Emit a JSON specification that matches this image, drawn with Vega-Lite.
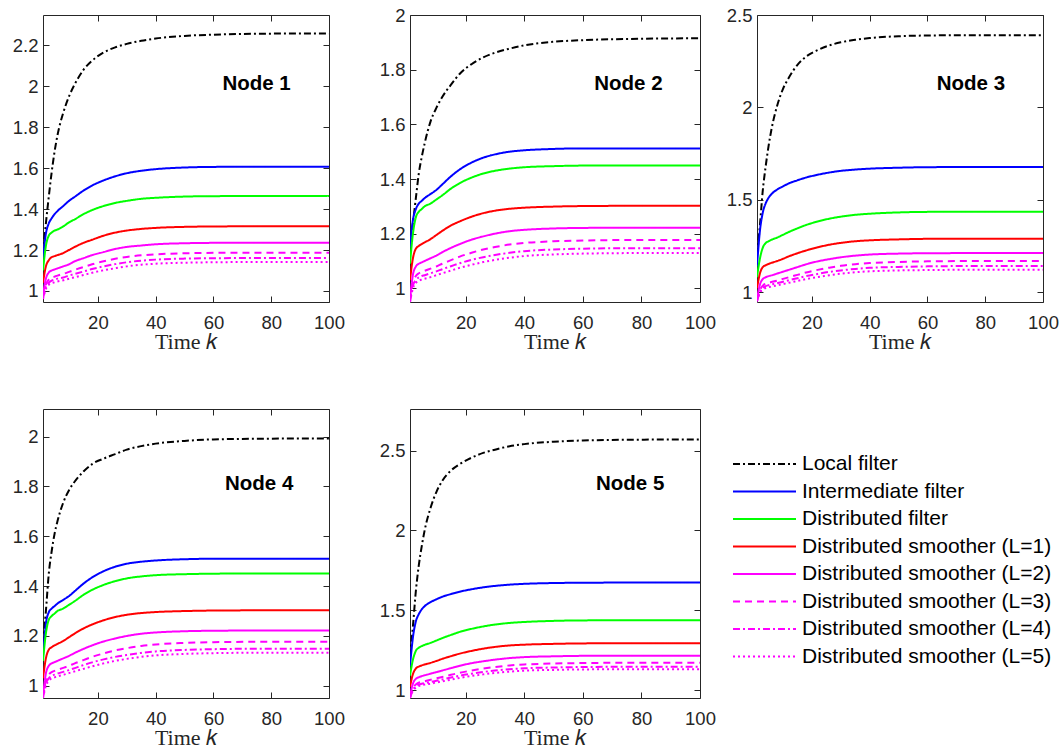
{
"$schema": "https://vega.github.io/schema/vega-lite/v6.json",
"padding": {"left": 10, "top": 5, "right": 5, "bottom": 5},
"background": "white",
"datasets": {"d": [
{"n":1,"k":1,"a":1.18,"b":1.16,"c":1.10,"d":1.04,"e":0.98,"f":0.97,"g":0.965,"h":0.96},
{"n":1,"k":2,"a":1.33,"b":1.28,"c":1.22,"d":1.12,"e":1.06,"f":1.03,"g":1.02,"h":1.01},
{"n":1,"k":3,"a":1.46,"b":1.33,"c":1.27,"d":1.15,"e":1.09,"f":1.055,"g":1.04,"h":1.03},
{"n":1,"k":4,"a":1.58,"b":1.355,"c":1.285,"d":1.165,"e":1.10,"f":1.065,"g":1.05,"h":1.038},
{"n":1,"k":5,"a":1.68,"b":1.375,"c":1.295,"d":1.17,"e":1.105,"f":1.07,"g":1.055,"h":1.042},
{"n":1,"k":6,"a":1.76,"b":1.39,"c":1.30,"d":1.175,"e":1.11,"f":1.075,"g":1.06,"h":1.046},
{"n":1,"k":8,"a":1.87,"b":1.415,"c":1.315,"d":1.185,"e":1.12,"f":1.083,"g":1.066,"h":1.052},
{"n":1,"k":10,"a":1.95,"b":1.44,"c":1.335,"d":1.20,"e":1.13,"f":1.093,"g":1.075,"h":1.06},
{"n":1,"k":12,"a":2.01,"b":1.46,"c":1.35,"d":1.215,"e":1.145,"f":1.103,"g":1.083,"h":1.067},
{"n":1,"k":15,"a":2.08,"b":1.49,"c":1.375,"d":1.235,"e":1.16,"f":1.117,"g":1.095,"h":1.078},
{"n":1,"k":18,"a":2.125,"b":1.515,"c":1.395,"d":1.25,"e":1.175,"f":1.13,"g":1.107,"h":1.089},
{"n":1,"k":22,"a":2.165,"b":1.54,"c":1.415,"d":1.27,"e":1.19,"f":1.145,"g":1.12,"h":1.101},
{"n":1,"k":26,"a":2.19,"b":1.56,"c":1.43,"d":1.285,"e":1.205,"f":1.157,"g":1.131,"h":1.111},
{"n":1,"k":30,"a":2.207,"b":1.575,"c":1.44,"d":1.295,"e":1.215,"f":1.166,"g":1.14,"h":1.12},
{"n":1,"k":35,"a":2.222,"b":1.587,"c":1.45,"d":1.303,"e":1.222,"f":1.174,"g":1.148,"h":1.128},
{"n":1,"k":40,"a":2.233,"b":1.595,"c":1.455,"d":1.308,"e":1.228,"f":1.179,"g":1.153,"h":1.133},
{"n":1,"k":50,"a":2.246,"b":1.603,"c":1.461,"d":1.313,"e":1.233,"f":1.184,"g":1.158,"h":1.138},
{"n":1,"k":60,"a":2.252,"b":1.606,"c":1.463,"d":1.315,"e":1.235,"f":1.186,"g":1.16,"h":1.14},
{"n":1,"k":80,"a":2.257,"b":1.607,"c":1.464,"d":1.316,"e":1.236,"f":1.187,"g":1.161,"h":1.142},
{"n":1,"k":100,"a":2.258,"b":1.607,"c":1.464,"d":1.316,"e":1.236,"f":1.187,"g":1.161,"h":1.142},
{"n":2,"k":1,"a":1.16,"b":1.15,"c":1.09,"d":1.03,"e":0.96,"f":0.955,"g":0.95,"h":0.95},
{"n":2,"k":2,"a":1.24,"b":1.25,"c":1.20,"d":1.11,"e":1.05,"f":1.02,"g":1.01,"h":1.0},
{"n":2,"k":3,"a":1.33,"b":1.29,"c":1.26,"d":1.145,"e":1.08,"f":1.045,"g":1.03,"h":1.02},
{"n":2,"k":4,"a":1.42,"b":1.31,"c":1.28,"d":1.155,"e":1.09,"f":1.055,"g":1.04,"h":1.028},
{"n":2,"k":5,"a":1.48,"b":1.32,"c":1.29,"d":1.162,"e":1.095,"f":1.06,"g":1.045,"h":1.032},
{"n":2,"k":6,"a":1.53,"b":1.33,"c":1.30,"d":1.168,"e":1.10,"f":1.064,"g":1.048,"h":1.035},
{"n":2,"k":8,"a":1.61,"b":1.345,"c":1.31,"d":1.18,"e":1.11,"f":1.072,"g":1.055,"h":1.041},
{"n":2,"k":10,"a":1.66,"b":1.36,"c":1.325,"d":1.195,"e":1.12,"f":1.08,"g":1.062,"h":1.048},
{"n":2,"k":12,"a":1.70,"b":1.38,"c":1.34,"d":1.21,"e":1.132,"f":1.09,"g":1.07,"h":1.055},
{"n":2,"k":15,"a":1.745,"b":1.41,"c":1.365,"d":1.23,"e":1.148,"f":1.103,"g":1.081,"h":1.065},
{"n":2,"k":18,"a":1.785,"b":1.435,"c":1.385,"d":1.245,"e":1.162,"f":1.116,"g":1.092,"h":1.075},
{"n":2,"k":22,"a":1.82,"b":1.46,"c":1.405,"d":1.262,"e":1.178,"f":1.13,"g":1.104,"h":1.086},
{"n":2,"k":26,"a":1.845,"b":1.478,"c":1.42,"d":1.275,"e":1.19,"f":1.142,"g":1.114,"h":1.096},
{"n":2,"k":30,"a":1.862,"b":1.49,"c":1.43,"d":1.284,"e":1.20,"f":1.151,"g":1.122,"h":1.104},
{"n":2,"k":35,"a":1.877,"b":1.50,"c":1.438,"d":1.291,"e":1.209,"f":1.16,"g":1.13,"h":1.112},
{"n":2,"k":40,"a":1.889,"b":1.505,"c":1.443,"d":1.295,"e":1.214,"f":1.166,"g":1.136,"h":1.118},
{"n":2,"k":50,"a":1.902,"b":1.51,"c":1.447,"d":1.299,"e":1.219,"f":1.172,"g":1.142,"h":1.124},
{"n":2,"k":60,"a":1.908,"b":1.512,"c":1.449,"d":1.301,"e":1.221,"f":1.175,"g":1.145,"h":1.127},
{"n":2,"k":80,"a":1.913,"b":1.512,"c":1.449,"d":1.302,"e":1.222,"f":1.177,"g":1.147,"h":1.129},
{"n":2,"k":100,"a":1.915,"b":1.512,"c":1.449,"d":1.302,"e":1.222,"f":1.177,"g":1.147,"h":1.129},
{"n":3,"k":1,"a":1.2,"b":1.14,"c":1.08,"d":1.02,"e":0.96,"f":0.955,"g":0.95,"h":0.95},
{"n":3,"k":2,"a":1.36,"b":1.33,"c":1.18,"d":1.10,"e":1.04,"f":1.01,"g":1.0,"h":0.995},
{"n":3,"k":3,"a":1.55,"b":1.43,"c":1.24,"d":1.135,"e":1.07,"f":1.035,"g":1.022,"h":1.013},
{"n":3,"k":4,"a":1.68,"b":1.48,"c":1.265,"d":1.145,"e":1.08,"f":1.045,"g":1.032,"h":1.022},
{"n":3,"k":5,"a":1.79,"b":1.51,"c":1.275,"d":1.152,"e":1.086,"f":1.05,"g":1.037,"h":1.026},
{"n":3,"k":6,"a":1.88,"b":1.53,"c":1.283,"d":1.158,"e":1.09,"f":1.054,"g":1.041,"h":1.03},
{"n":3,"k":8,"a":2.01,"b":1.555,"c":1.295,"d":1.168,"e":1.10,"f":1.062,"g":1.048,"h":1.036},
{"n":3,"k":10,"a":2.10,"b":1.572,"c":1.31,"d":1.18,"e":1.11,"f":1.071,"g":1.056,"h":1.043},
{"n":3,"k":12,"a":2.16,"b":1.588,"c":1.325,"d":1.193,"e":1.12,"f":1.08,"g":1.064,"h":1.05},
{"n":3,"k":15,"a":2.23,"b":1.605,"c":1.345,"d":1.21,"e":1.135,"f":1.093,"g":1.075,"h":1.06},
{"n":3,"k":18,"a":2.275,"b":1.62,"c":1.363,"d":1.225,"e":1.15,"f":1.106,"g":1.086,"h":1.07},
{"n":3,"k":22,"a":2.31,"b":1.635,"c":1.382,"d":1.242,"e":1.166,"f":1.12,"g":1.098,"h":1.081},
{"n":3,"k":26,"a":2.335,"b":1.647,"c":1.397,"d":1.256,"e":1.178,"f":1.132,"g":1.109,"h":1.091},
{"n":3,"k":30,"a":2.352,"b":1.656,"c":1.408,"d":1.266,"e":1.188,"f":1.142,"g":1.117,"h":1.099},
{"n":3,"k":35,"a":2.366,"b":1.663,"c":1.418,"d":1.275,"e":1.197,"f":1.151,"g":1.125,"h":1.107},
{"n":3,"k":40,"a":2.375,"b":1.668,"c":1.424,"d":1.28,"e":1.203,"f":1.157,"g":1.131,"h":1.112},
{"n":3,"k":50,"a":2.385,"b":1.673,"c":1.431,"d":1.285,"e":1.208,"f":1.163,"g":1.136,"h":1.117},
{"n":3,"k":60,"a":2.389,"b":1.676,"c":1.434,"d":1.288,"e":1.21,"f":1.166,"g":1.139,"h":1.119},
{"n":3,"k":80,"a":2.391,"b":1.677,"c":1.435,"d":1.289,"e":1.211,"f":1.168,"g":1.141,"h":1.121},
{"n":3,"k":100,"a":2.391,"b":1.677,"c":1.435,"d":1.289,"e":1.211,"f":1.168,"g":1.141,"h":1.121},
{"n":4,"k":1,"a":1.17,"b":1.12,"c":1.10,"d":1.03,"e":0.96,"f":0.955,"g":0.955,"h":0.95},
{"n":4,"k":2,"a":1.30,"b":1.25,"c":1.21,"d":1.11,"e":1.05,"f":1.02,"g":1.01,"h":1.0},
{"n":4,"k":3,"a":1.45,"b":1.295,"c":1.265,"d":1.145,"e":1.08,"f":1.045,"g":1.03,"h":1.02},
{"n":4,"k":4,"a":1.54,"b":1.31,"c":1.28,"d":1.155,"e":1.09,"f":1.055,"g":1.04,"h":1.03},
{"n":4,"k":5,"a":1.61,"b":1.32,"c":1.29,"d":1.162,"e":1.095,"f":1.06,"g":1.045,"h":1.034},
{"n":4,"k":6,"a":1.66,"b":1.33,"c":1.30,"d":1.168,"e":1.10,"f":1.064,"g":1.049,"h":1.038},
{"n":4,"k":8,"a":1.735,"b":1.345,"c":1.31,"d":1.18,"e":1.11,"f":1.072,"g":1.056,"h":1.044},
{"n":4,"k":10,"a":1.785,"b":1.36,"c":1.325,"d":1.195,"e":1.12,"f":1.08,"g":1.063,"h":1.051},
{"n":4,"k":12,"a":1.82,"b":1.38,"c":1.34,"d":1.21,"e":1.132,"f":1.09,"g":1.071,"h":1.058},
{"n":4,"k":15,"a":1.86,"b":1.41,"c":1.365,"d":1.23,"e":1.148,"f":1.103,"g":1.083,"h":1.068},
{"n":4,"k":18,"a":1.89,"b":1.435,"c":1.385,"d":1.246,"e":1.162,"f":1.116,"g":1.094,"h":1.078},
{"n":4,"k":22,"a":1.912,"b":1.46,"c":1.405,"d":1.263,"e":1.178,"f":1.13,"g":1.106,"h":1.09},
{"n":4,"k":26,"a":1.93,"b":1.478,"c":1.42,"d":1.276,"e":1.19,"f":1.142,"g":1.116,"h":1.1},
{"n":4,"k":30,"a":1.948,"b":1.49,"c":1.431,"d":1.285,"e":1.20,"f":1.151,"g":1.124,"h":1.108},
{"n":4,"k":35,"a":1.962,"b":1.498,"c":1.439,"d":1.292,"e":1.209,"f":1.16,"g":1.132,"h":1.116},
{"n":4,"k":40,"a":1.972,"b":1.503,"c":1.444,"d":1.296,"e":1.214,"f":1.166,"g":1.138,"h":1.122},
{"n":4,"k":50,"a":1.983,"b":1.508,"c":1.448,"d":1.30,"e":1.219,"f":1.172,"g":1.144,"h":1.128},
{"n":4,"k":60,"a":1.989,"b":1.51,"c":1.45,"d":1.302,"e":1.221,"f":1.175,"g":1.147,"h":1.131},
{"n":4,"k":80,"a":1.992,"b":1.51,"c":1.451,"d":1.303,"e":1.222,"f":1.177,"g":1.149,"h":1.133},
{"n":4,"k":100,"a":1.993,"b":1.51,"c":1.451,"d":1.303,"e":1.222,"f":1.177,"g":1.149,"h":1.133},
{"n":5,"k":1,"a":1.21,"b":1.15,"c":1.09,"d":1.02,"e":0.96,"f":0.955,"g":0.95,"h":0.95},
{"n":5,"k":2,"a":1.40,"b":1.33,"c":1.19,"d":1.10,"e":1.04,"f":1.01,"g":1.0,"h":0.995},
{"n":5,"k":3,"a":1.62,"b":1.43,"c":1.245,"d":1.135,"e":1.07,"f":1.035,"g":1.024,"h":1.015},
{"n":5,"k":4,"a":1.78,"b":1.475,"c":1.265,"d":1.147,"e":1.08,"f":1.046,"g":1.034,"h":1.025},
{"n":5,"k":5,"a":1.90,"b":1.505,"c":1.275,"d":1.154,"e":1.087,"f":1.051,"g":1.039,"h":1.03},
{"n":5,"k":6,"a":2.0,"b":1.525,"c":1.283,"d":1.16,"e":1.092,"f":1.055,"g":1.043,"h":1.034},
{"n":5,"k":8,"a":2.14,"b":1.55,"c":1.295,"d":1.17,"e":1.102,"f":1.064,"g":1.05,"h":1.04},
{"n":5,"k":10,"a":2.24,"b":1.568,"c":1.31,"d":1.182,"e":1.112,"f":1.073,"g":1.058,"h":1.047},
{"n":5,"k":12,"a":2.31,"b":1.584,"c":1.325,"d":1.195,"e":1.122,"f":1.082,"g":1.066,"h":1.054},
{"n":5,"k":15,"a":2.375,"b":1.601,"c":1.345,"d":1.212,"e":1.137,"f":1.095,"g":1.078,"h":1.065},
{"n":5,"k":18,"a":2.415,"b":1.616,"c":1.364,"d":1.228,"e":1.152,"f":1.108,"g":1.09,"h":1.076},
{"n":5,"k":22,"a":2.455,"b":1.631,"c":1.383,"d":1.245,"e":1.168,"f":1.122,"g":1.102,"h":1.088},
{"n":5,"k":26,"a":2.485,"b":1.643,"c":1.398,"d":1.259,"e":1.18,"f":1.134,"g":1.113,"h":1.098},
{"n":5,"k":30,"a":2.505,"b":1.652,"c":1.41,"d":1.27,"e":1.19,"f":1.144,"g":1.122,"h":1.107},
{"n":5,"k":35,"a":2.527,"b":1.66,"c":1.42,"d":1.279,"e":1.2,"f":1.154,"g":1.13,"h":1.115},
{"n":5,"k":40,"a":2.54,"b":1.665,"c":1.426,"d":1.284,"e":1.206,"f":1.16,"g":1.136,"h":1.121},
{"n":5,"k":50,"a":2.555,"b":1.67,"c":1.433,"d":1.289,"e":1.211,"f":1.166,"g":1.141,"h":1.126},
{"n":5,"k":60,"a":2.563,"b":1.672,"c":1.436,"d":1.292,"e":1.214,"f":1.169,"g":1.144,"h":1.129},
{"n":5,"k":80,"a":2.568,"b":1.673,"c":1.437,"d":1.293,"e":1.215,"f":1.171,"g":1.146,"h":1.13},
{"n":5,"k":100,"a":2.569,"b":1.673,"c":1.437,"d":1.293,"e":1.215,"f":1.171,"g":1.146,"h":1.13}
]},
"vconcat": [
{"hconcat": [
{"width": 286, "height": 287,
 "layer": [
  {"data": {"name": "d"},
   "transform": [{"filter": "datum.n == 1"}, {"fold": ["a","b","c","d","e","f","g","h"], "as": ["s","v"]}],
   "mark": {"type": "line", "strokeWidth": 2, "clip": true, "interpolate": "monotone"},
   "encoding": {
    "x": {"field": "k", "type": "quantitative", "scale": {"domain": [1,100], "nice": false, "zero": false}, "axis": {"orient": "bottom", "values": [20,40,60,80,100], "format": "d", "title": "Time 𝑘", "minExtent": 0}},
    "y": {"field": "v", "type": "quantitative", "scale": {"domain": [0.946,2.348], "nice": false, "zero": false}, "axis": {"orient": "left", "values": [1,1.2,1.4,1.6,1.8,2,2.2], "format": "~g", "title": null, "minExtent": 32}},
    "color": {"field": "s", "type": "nominal", "scale": {"domain": ["a","b","c","d","e","f","g","h"], "range": ["#000000","#0000ff","#00ff00","#ff0000","#ff00ff","#ff00ff","#ff00ff","#ff00ff"]}, "legend": null},
    "strokeDash": {"field": "s", "type": "nominal", "scale": {"domain": ["a","b","c","d","e","f","g","h"], "range": [[7,3,2,3],[1,0],[1,0],[1,0],[1,0],[7,5],[7,3,2,3],[2,3]]}, "legend": null}
   }},
  {"data": {"values": [{}]},
   "mark": {"type": "text", "text": "Node 1", "align": "left", "baseline": "middle", "font": "Liberation Sans", "fontSize": 20.5, "fontWeight": "bold", "color": "#000000"},
   "encoding": {
    "x": {"datum": 63.1, "type": "quantitative", "scale": {"domain": [1,100], "nice": false, "zero": false}, "axis": {"orient": "top", "values": [20,40,60,80,100], "labels": false, "title": null, "minExtent": 0, "maxExtent": 0}},
    "y": {"datum": 2.011, "type": "quantitative", "scale": {"domain": [0.946,2.348], "nice": false, "zero": false}, "axis": {"orient": "right", "values": [1,1.2,1.4,1.6,1.8,2,2.2], "labels": false, "title": null, "minExtent": 0, "maxExtent": 0}}
   }}
 ],
 "resolve": {"axis": {"x": "independent", "y": "independent"}}
},
{"width": 290, "height": 287,
 "layer": [
  {"data": {"name": "d"},
   "transform": [{"filter": "datum.n == 2"}, {"fold": ["a","b","c","d","e","f","g","h"], "as": ["s","v"]}],
   "mark": {"type": "line", "strokeWidth": 2, "clip": true, "interpolate": "monotone"},
   "encoding": {
    "x": {"field": "k", "type": "quantitative", "scale": {"domain": [1,100], "nice": false, "zero": false}, "axis": {"orient": "bottom", "values": [20,40,60,80,100], "format": "d", "title": "Time 𝑘", "minExtent": 0}},
    "y": {"field": "v", "type": "quantitative", "scale": {"domain": [0.95,2.0], "nice": false, "zero": false}, "axis": {"orient": "left", "values": [1,1.2,1.4,1.6,1.8,2], "format": "~g", "title": null, "minExtent": 55}},
    "color": {"field": "s", "type": "nominal", "scale": {"domain": ["a","b","c","d","e","f","g","h"], "range": ["#000000","#0000ff","#00ff00","#ff0000","#ff00ff","#ff00ff","#ff00ff","#ff00ff"]}, "legend": null},
    "strokeDash": {"field": "s", "type": "nominal", "scale": {"domain": ["a","b","c","d","e","f","g","h"], "range": [[7,3,2,3],[1,0],[1,0],[1,0],[1,0],[7,5],[7,3,2,3],[2,3]]}, "legend": null}
   }},
  {"data": {"values": [{}]},
   "mark": {"type": "text", "text": "Node 2", "align": "left", "baseline": "middle", "font": "Liberation Sans", "fontSize": 20.5, "fontWeight": "bold", "color": "#000000"},
   "encoding": {
    "x": {"datum": 63.9, "type": "quantitative", "scale": {"domain": [1,100], "nice": false, "zero": false}, "axis": {"orient": "top", "values": [20,40,60,80,100], "labels": false, "title": null, "minExtent": 0, "maxExtent": 0}},
    "y": {"datum": 1.746, "type": "quantitative", "scale": {"domain": [0.95,2.0], "nice": false, "zero": false}, "axis": {"orient": "right", "values": [1,1.2,1.4,1.6,1.8,2], "labels": false, "title": null, "minExtent": 0, "maxExtent": 0}}
   }}
 ],
 "resolve": {"axis": {"x": "independent", "y": "independent"}}
},
{"width": 286, "height": 287,
 "layer": [
  {"data": {"name": "d"},
   "transform": [{"filter": "datum.n == 3"}, {"fold": ["a","b","c","d","e","f","g","h"], "as": ["s","v"]}],
   "mark": {"type": "line", "strokeWidth": 2, "clip": true, "interpolate": "monotone"},
   "encoding": {
    "x": {"field": "k", "type": "quantitative", "scale": {"domain": [1,100], "nice": false, "zero": false}, "axis": {"orient": "bottom", "values": [20,40,60,80,100], "format": "d", "title": "Time 𝑘", "minExtent": 0}},
    "y": {"field": "v", "type": "quantitative", "scale": {"domain": [0.946,2.5], "nice": false, "zero": false}, "axis": {"orient": "left", "values": [1,1.5,2,2.5], "format": "~g", "title": null, "minExtent": 31}},
    "color": {"field": "s", "type": "nominal", "scale": {"domain": ["a","b","c","d","e","f","g","h"], "range": ["#000000","#0000ff","#00ff00","#ff0000","#ff00ff","#ff00ff","#ff00ff","#ff00ff"]}, "legend": null},
    "strokeDash": {"field": "s", "type": "nominal", "scale": {"domain": ["a","b","c","d","e","f","g","h"], "range": [[7,3,2,3],[1,0],[1,0],[1,0],[1,0],[7,5],[7,3,2,3],[2,3]]}, "legend": null}
   }},
  {"data": {"values": [{}]},
   "mark": {"type": "text", "text": "Node 3", "align": "left", "baseline": "middle", "font": "Liberation Sans", "fontSize": 20.5, "fontWeight": "bold", "color": "#000000"},
   "encoding": {
    "x": {"datum": 63.2, "type": "quantitative", "scale": {"domain": [1,100], "nice": false, "zero": false}, "axis": {"orient": "top", "values": [20,40,60,80,100], "labels": false, "title": null, "minExtent": 0, "maxExtent": 0}},
    "y": {"datum": 2.125, "type": "quantitative", "scale": {"domain": [0.946,2.5], "nice": false, "zero": false}, "axis": {"orient": "right", "values": [1,1.5,2,2.5], "labels": false, "title": null, "minExtent": 0, "maxExtent": 0}}
   }}
 ],
 "resolve": {"axis": {"x": "independent", "y": "independent"}}
}
], "spacing": 9},
{"hconcat": [
{"width": 286, "height": 289,
 "layer": [
  {"data": {"name": "d"},
   "transform": [{"filter": "datum.n == 4"}, {"fold": ["a","b","c","d","e","f","g","h"], "as": ["s","v"]}],
   "mark": {"type": "line", "strokeWidth": 2, "clip": true, "interpolate": "monotone"},
   "encoding": {
    "x": {"field": "k", "type": "quantitative", "scale": {"domain": [1,100], "nice": false, "zero": false}, "axis": {"orient": "bottom", "values": [20,40,60,80,100], "format": "d", "title": "Time 𝑘", "minExtent": 0}},
    "y": {"field": "v", "type": "quantitative", "scale": {"domain": [0.951,2.111], "nice": false, "zero": false}, "axis": {"orient": "left", "values": [1,1.2,1.4,1.6,1.8,2], "format": "~g", "title": null, "minExtent": 32}},
    "color": {"field": "s", "type": "nominal", "scale": {"domain": ["a","b","c","d","e","f","g","h"], "range": ["#000000","#0000ff","#00ff00","#ff0000","#ff00ff","#ff00ff","#ff00ff","#ff00ff"]}, "legend": null},
    "strokeDash": {"field": "s", "type": "nominal", "scale": {"domain": ["a","b","c","d","e","f","g","h"], "range": [[7,3,2,3],[1,0],[1,0],[1,0],[1,0],[7,5],[7,3,2,3],[2,3]]}, "legend": null}
   }},
  {"data": {"values": [{}]},
   "mark": {"type": "text", "text": "Node 4", "align": "left", "baseline": "middle", "font": "Liberation Sans", "fontSize": 20.5, "fontWeight": "bold", "color": "#000000"},
   "encoding": {
    "x": {"datum": 64.0, "type": "quantitative", "scale": {"domain": [1,100], "nice": false, "zero": false}, "axis": {"orient": "top", "values": [20,40,60,80,100], "labels": false, "title": null, "minExtent": 0, "maxExtent": 0}},
    "y": {"datum": 1.81, "type": "quantitative", "scale": {"domain": [0.951,2.111], "nice": false, "zero": false}, "axis": {"orient": "right", "values": [1,1.2,1.4,1.6,1.8,2], "labels": false, "title": null, "minExtent": 0, "maxExtent": 0}}
   }}
 ],
 "resolve": {"axis": {"x": "independent", "y": "independent"}}
},
{"width": 290, "height": 289,
 "layer": [
  {"data": {"name": "d"},
   "transform": [{"filter": "datum.n == 5"}, {"fold": ["a","b","c","d","e","f","g","h"], "as": ["s","v"]}],
   "mark": {"type": "line", "strokeWidth": 2, "clip": true, "interpolate": "monotone"},
   "encoding": {
    "x": {"field": "k", "type": "quantitative", "scale": {"domain": [1,100], "nice": false, "zero": false}, "axis": {"orient": "bottom", "values": [20,40,60,80,100], "format": "d", "title": "Time 𝑘", "minExtent": 0}},
    "y": {"field": "v", "type": "quantitative", "scale": {"domain": [0.95,2.76], "nice": false, "zero": false}, "axis": {"orient": "left", "values": [1,1.5,2,2.5], "format": "~g", "title": null, "minExtent": 48}},
    "color": {"field": "s", "type": "nominal", "scale": {"domain": ["a","b","c","d","e","f","g","h"], "range": ["#000000","#0000ff","#00ff00","#ff0000","#ff00ff","#ff00ff","#ff00ff","#ff00ff"]}, "legend": null},
    "strokeDash": {"field": "s", "type": "nominal", "scale": {"domain": ["a","b","c","d","e","f","g","h"], "range": [[7,3,2,3],[1,0],[1,0],[1,0],[1,0],[7,5],[7,3,2,3],[2,3]]}, "legend": null}
   }},
  {"data": {"values": [{}]},
   "mark": {"type": "text", "text": "Node 5", "align": "left", "baseline": "middle", "font": "Liberation Sans", "fontSize": 20.5, "fontWeight": "bold", "color": "#000000"},
   "encoding": {
    "x": {"datum": 64.5, "type": "quantitative", "scale": {"domain": [1,100], "nice": false, "zero": false}, "axis": {"orient": "top", "values": [20,40,60,80,100], "labels": false, "title": null, "minExtent": 0, "maxExtent": 0}},
    "y": {"datum": 2.291, "type": "quantitative", "scale": {"domain": [0.95,2.76], "nice": false, "zero": false}, "axis": {"orient": "right", "values": [1,1.5,2,2.5], "labels": false, "title": null, "minExtent": 0, "maxExtent": 0}}
   }}
 ],
 "resolve": {"axis": {"x": "independent", "y": "independent"}}
},
{"width": 63, "height": 289,
 "view": {"stroke": null},
 "data": {"values": [
  {"s":"a","label":"Local filter","i":0},
  {"s":"b","label":"Intermediate filter","i":1},
  {"s":"c","label":"Distributed filter","i":2},
  {"s":"d","label":"Distributed smoother (L=1)","i":3},
  {"s":"e","label":"Distributed smoother (L=2)","i":4},
  {"s":"f","label":"Distributed smoother (L=3)","i":5},
  {"s":"g","label":"Distributed smoother (L=4)","i":6},
  {"s":"h","label":"Distributed smoother (L=5)","i":7}
 ]},
 "layer": [
  {"mark": {"type": "rule", "strokeWidth": 2},
   "encoding": {
    "x": {"datum": 0, "type": "quantitative", "scale": {"domain": [0,1], "nice": false, "zero": false}, "axis": null},
    "x2": {"datum": 1},
    "y": {"field": "i", "type": "quantitative", "scale": {"domain": [-2,8.509], "reverse": true, "nice": false, "zero": false}, "axis": null},
    "color": {"field": "s", "type": "nominal", "scale": {"domain": ["a","b","c","d","e","f","g","h"], "range": ["#000000","#0000ff","#00ff00","#ff0000","#ff00ff","#ff00ff","#ff00ff","#ff00ff"]}, "legend": null},
    "strokeDash": {"field": "s", "type": "nominal", "scale": {"domain": ["a","b","c","d","e","f","g","h"], "range": [[7,3,2,3],[1,0],[1,0],[1,0],[1,0],[7,5],[7,3,2,3],[2,3]]}, "legend": null}
   }},
  {"mark": {"type": "text", "align": "left", "baseline": "middle", "dx": 6, "font": "Liberation Sans", "fontSize": 21, "color": "#000000"},
   "encoding": {
    "x": {"datum": 1, "type": "quantitative"},
    "y": {"field": "i", "type": "quantitative"},
    "text": {"field": "label"}
   }}
 ]
}
], "spacing": 16}
],
"spacing": 54,
"config": {
 "view": {"stroke": "#262626", "strokeWidth": 1},
 "axis": {"grid": false, "domain": false, "tickColor": "#262626", "tickSize": -6, "tickWidth": 1, "labelFont": "Liberation Sans", "labelFontSize": 18.5, "labelColor": "#262626", "labelFlush": false, "labelOverlap": false, "titleFont": "Liberation Serif", "titleFontSize": 22, "titleFontWeight": "normal", "titleColor": "#262626"},
 "axisLeft": {"labelPadding": 11},
 "axisBottom": {"labelPadding": 17.1, "titlePadding": 0}
}
}
